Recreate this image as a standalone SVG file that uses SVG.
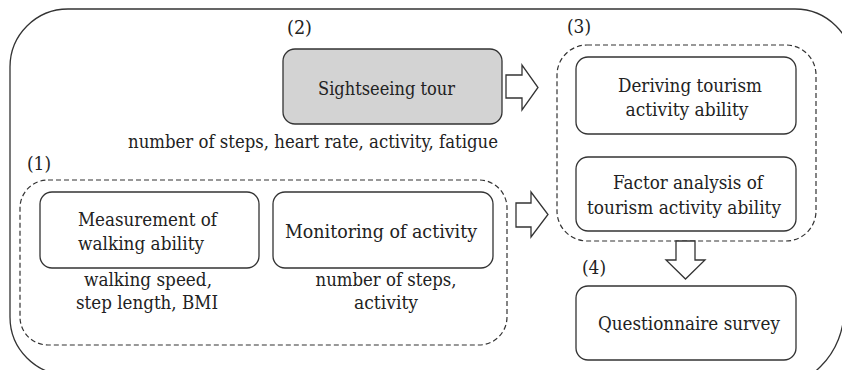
<svg xmlns="http://www.w3.org/2000/svg" width="842" height="370" viewBox="0 0 842 370">
<style>
  .t { font-family: 'DejaVu Serif', 'Liberation Serif', serif; font-size: 19px; fill: #222; }
  .c { text-anchor: middle; }
  .box { fill: #fff; stroke: #333; stroke-width: 1.3; }
  .gray { fill: #d3d3d3; }
  .dash { fill: none; stroke: #333; stroke-width: 1.2; stroke-dasharray: 5 3; }
  .outer { fill: none; stroke: #333; stroke-width: 1.3; }
  .arr { fill: #fff; stroke: #333; stroke-width: 1.3; stroke-linejoin: miter; }
</style>
<rect width="842" height="370" fill="#fff"/>
<g id="frame">
  <path class="outer" d="M 10,317 V 67 A 58 58 0 0 1 68,9 H 795 A 58 58 0 0 1 853,67 L 844,310 A 80 80 0 0 1 764,390 L 68,375 A 58 58 0 0 1 10,317 Z"/>
</g>
<g id="group1">
  <rect class="dash" x="20" y="180" width="487" height="165" rx="28"/>
  <text class="t" x="27" y="170" textLength="24" lengthAdjust="spacingAndGlyphs">(1)</text>
</g>
<g id="group3">
  <rect class="dash" x="557" y="45" width="259" height="196" rx="30"/>
  <text class="t" x="567" y="33" textLength="24" lengthAdjust="spacingAndGlyphs">(3)</text>
</g>
<g id="sightseeing">
  <text class="t" x="287" y="34" textLength="25" lengthAdjust="spacingAndGlyphs">(2)</text>
  <rect class="box gray" x="283" y="49" width="219" height="75" rx="12"/>
  <text class="t c" x="386.5" y="95" textLength="137" lengthAdjust="spacingAndGlyphs">Sightseeing tour</text>
  <text class="t c" x="313" y="148" textLength="370" lengthAdjust="spacingAndGlyphs">number of steps, heart rate, activity, fatigue</text>
</g>
<g id="measurement">
  <rect class="box" x="40" y="192" width="219" height="76" rx="12"/>
  <text class="t" x="78" y="226" textLength="139" lengthAdjust="spacingAndGlyphs">Measurement of</text>
  <text class="t" x="78" y="250" textLength="126" lengthAdjust="spacingAndGlyphs">walking ability</text>
  <text class="t c" x="148" y="286" textLength="128" lengthAdjust="spacingAndGlyphs">walking speed,</text>
  <text class="t c" x="147" y="309" textLength="142" lengthAdjust="spacingAndGlyphs">step length, BMI</text>
</g>
<g id="monitoring">
  <rect class="box" x="273" y="192" width="220" height="76" rx="12"/>
  <text class="t c" x="381" y="238" textLength="192" lengthAdjust="spacingAndGlyphs">Monitoring of activity</text>
  <text class="t c" x="386" y="286" textLength="141" lengthAdjust="spacingAndGlyphs">number of steps,</text>
  <text class="t c" x="386" y="309" textLength="64" lengthAdjust="spacingAndGlyphs">activity</text>
</g>
<g id="deriving">
  <rect class="box" x="576" y="57" width="220" height="77" rx="12"/>
  <text class="t c" x="690" y="92" textLength="144" lengthAdjust="spacingAndGlyphs">Deriving tourism</text>
  <text class="t c" x="687" y="116" textLength="123" lengthAdjust="spacingAndGlyphs">activity ability</text>
</g>
<g id="factor">
  <rect class="box" x="576" y="157" width="220" height="74" rx="12"/>
  <text class="t c" x="688" y="189" textLength="150" lengthAdjust="spacingAndGlyphs">Factor analysis of</text>
  <text class="t c" x="684" y="214" textLength="194" lengthAdjust="spacingAndGlyphs">tourism activity ability</text>
</g>
<g id="questionnaire">
  <text class="t" x="582" y="274" textLength="24" lengthAdjust="spacingAndGlyphs">(4)</text>
  <rect class="box" x="576" y="286" width="220" height="74" rx="12"/>
  <text class="t c" x="689" y="330" textLength="182" lengthAdjust="spacingAndGlyphs">Questionnaire survey</text>
</g>
<g id="connectors">
  <polygon class="arr" points="506,75 522,75 522,65 538,87.5 522,110 522,98 506,98"/>
  <polygon class="arr" points="516,203 531,203 531,192 548,214.5 531,237 531,227 516,227"/>
  <polygon class="arr" points="676,241 695,241 695,260 705,260 685.5,279 666,260 676,260"/>
</g>
</svg>
